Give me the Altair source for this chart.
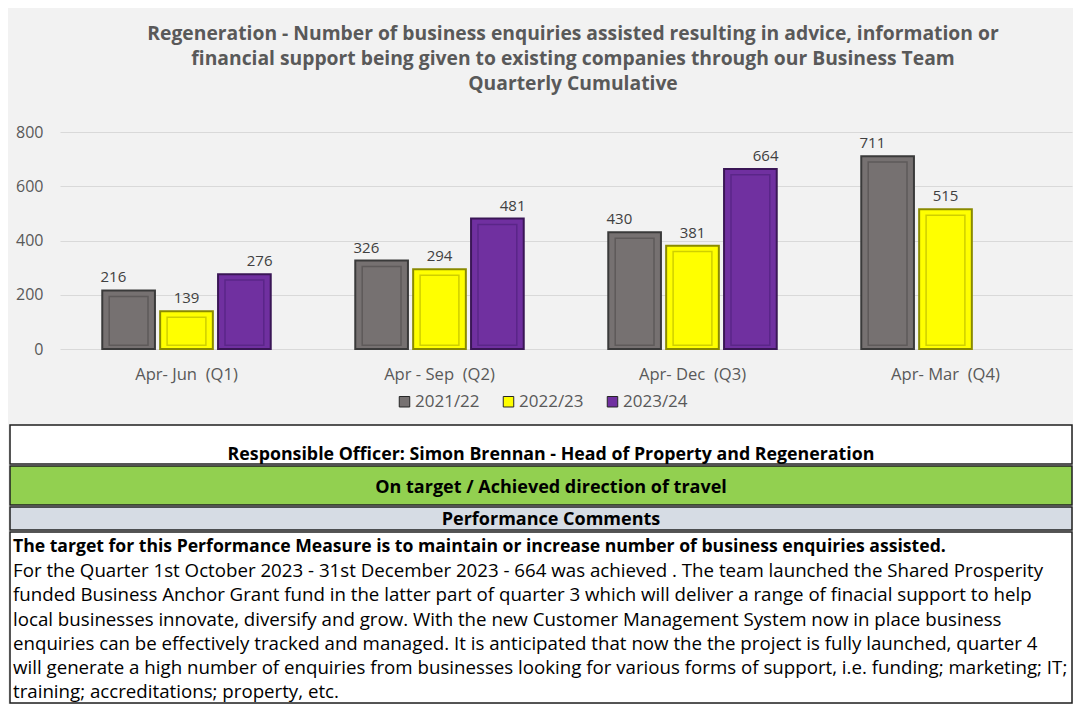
import altair as alt
import pandas as pd

# ---------------- data ----------------
quarters = ["Apr- Jun\u00a0\u00a0(Q1)", "Apr - Sep\u00a0\u00a0(Q2)", "Apr- Dec\u00a0\u00a0(Q3)", "Apr- Mar\u00a0\u00a0(Q4)"]
years = ["2021/22", "2022/23", "2023/24"]
values_2021_22 = [216, 326, 430, 711]
values_2022_23 = [139, 294, 381, 515]
values_2023_24 = [276, 481, 664, None]
y_ticks = [0, 100, 200, 300, 400, 500, 600, 700, 800]

title_lines = [
    "Regeneration - Number of business enquiries assisted resulting in advice, information or",
    "financial support being given to existing companies through our Business Team",
    "Quarterly Cumulative",
]
officer_text = "Responsible Officer:  Simon Brennan - Head of Property and Regeneration"
status_text = "On target / Achieved direction of travel"
comments_header = "Performance Comments"
comment_lines = [
    "The target for this Performance Measure is to maintain or increase number of business enquiries assisted.",
    "For the Quarter 1st October 2023 - 31st December 2023 - 664 was achieved . The team launched the Shared Prosperity",
    "funded Business Anchor Grant fund in the latter part of quarter 3 which will deliver a range of finacial support to help",
    "local businesses innovate, diversify and grow. With the new Customer Management System now in place business",
    "enquiries can be effectively tracked and managed. It is anticipated that now the the project is fully launched, quarter 4",
    "will generate a high number of enquiries from businesses looking for various forms of support, i.e. funding; marketing; IT;",
    "training; accreditations; property, etc.",
]

rows = []
for yr, vals in zip(years, [values_2021_22, values_2022_23, values_2023_24]):
    for q, v in zip(quarters, vals):
        if v is not None:
            rows.append({"quarter": q, "year": yr, "value": v})
df = pd.DataFrame(rows)

FONT = "Open Sans"
TXT = "#595959"
fills = ["#767171", "#ffff00", "#7030a0"]
strokes = ["#3a3a3a", "#8a8a00", "#3a1656"]
inner_strokes = ["#5e5a5a", "#cfcf00", "#5a2688"]
BORDER = "#1f1f1f"

PLOT_W = 1012
AXIS_W = 50

xenc = alt.X("quarter:N", sort=quarters,
             scale=alt.Scale(paddingInner=0, paddingOuter=0),
             axis=alt.Axis(title=None, labelAngle=0, domain=False, ticks=False,
                           labelPadding=17, labelFontSize=16.6, labelColor=TXT, labelFont=FONT))
xoff_outer = alt.XOffset("year:N", sort=years,
                         scale=alt.Scale(domain=years, paddingInner=0.09, paddingOuter=0.73))

base = alt.Chart(df).encode(x=xenc)

outer = base.mark_bar(strokeWidth=2).encode(
    xOffset=xoff_outer,
    y=alt.Y("value:Q", scale=alt.Scale(domain=[0, 800]),
            axis=alt.Axis(values=y_ticks, title=None, domain=False, ticks=False, tickSize=0,
                          labelOverlap=False, labelPadding=17, minExtent=AXIS_W, gridColor="#d9d9d9",
                          labelFontSize=16, labelColor=TXT, labelFont=FONT)),
    color=alt.Color("year:N", scale=alt.Scale(domain=years, range=fills),
                    legend=alt.Legend(title=None, orient="none", legendX=336, legendY=261,
                                      direction="horizontal", symbolType="square",
                                      symbolSize=110, symbolStrokeColor="#262626",
                                      symbolStrokeWidth=1, labelFontSize=17, labelColor=TXT,
                                      labelFont=FONT, columnPadding=20, labelOffset=2)),
    stroke=alt.Stroke("year:N", scale=alt.Scale(domain=years, range=strokes), legend=None),
)

inner = base.transform_calculate(
    top="datum.value - 22", bottom="14"
).mark_bar(strokeWidth=1.5, fillOpacity=0).encode(
    xOffset=alt.XOffset("year:N", sort=years,
                        scale=alt.Scale(domain=years, paddingInner=0.33, paddingOuter=0.85)),
    y="top:Q",
    y2="bottom:Q",
    stroke=alt.Stroke("year:N", scale=alt.Scale(domain=years, range=inner_strokes), legend=None),
)

labels = base.mark_text(dy=-13, fontSize=15, color="#404040", font=FONT).encode(
    xOffset=xoff_outer, y="value:Q", text="value:Q"
)

top = alt.layer(outer, inner, labels).resolve_scale(
    stroke="independent", xOffset="independent"
).properties(
    width=PLOT_W, height=217,
    title=alt.TitleParams(text=title_lines, font=FONT, fontSize=19.3, fontWeight="bold",
                          color=TXT, lineHeight=25, anchor="middle", frame="group",
                          offset=30, dx=7),
)


def panel(h, fill):
    return alt.Chart(pd.DataFrame({"k": [0]})).mark_rect(
        fill=fill, stroke=BORDER, strokeWidth=1.5
    ).encode(x=alt.value(-AXIS_W), x2=alt.value(PLOT_W), y=alt.value(0), y2=alt.value(h))


def banner(text, h, fill, ty, size):
    txt = alt.Chart(pd.DataFrame({"t": [text]})).mark_text(
        font=FONT, fontWeight="bold", fontSize=size, color="#000000",
        align="center", baseline="middle"
    ).encode(x=alt.value(491), y=alt.value(ty), text="t:N")
    return alt.layer(panel(h, fill), txt).properties(width=PLOT_W, height=h)


row_officer = banner(officer_text, 39, "#ffffff", 29.5, 17.8)
row_status = banner(status_text, 39, "#92d050", 21.5, 18.0)
row_header = banner(comments_header, 23, "#d6dce4", 12.5, 18.0)

body_df = pd.DataFrame({"line": list(range(len(comment_lines))), "text": comment_lines})
ybody = alt.Y("line:O", axis=None,
              scale=alt.Scale(domain=list(range(len(comment_lines))), range=[15, 160], padding=0))
body_bold = alt.Chart(body_df).transform_filter("datum.line == 0").mark_text(
    font=FONT, fontWeight="bold", fontSize=17.6, color="#000000", align="left", baseline="middle"
).encode(x=alt.value(-47), y=ybody, text="text:N")
body_reg = alt.Chart(body_df).transform_filter("datum.line > 0").mark_text(
    font=FONT, fontSize=18.7, color="#000000", align="left", baseline="middle"
).encode(x=alt.value(-47), y=ybody, text="text:N")
body = alt.layer(panel(171, "#ffffff"), body_bold, body_reg).properties(width=PLOT_W, height=171)

lower = alt.vconcat(row_officer, row_status, row_header, body, spacing=0)

chart = alt.vconcat(top, lower, spacing=41).properties(
    padding={"top": 16, "left": 1, "right": 0, "bottom": 0},
    background="#f2f2f2",
).configure_view(strokeWidth=0)

chart.save("out.html", embed_options={"renderer": "svg", "actions": False})
